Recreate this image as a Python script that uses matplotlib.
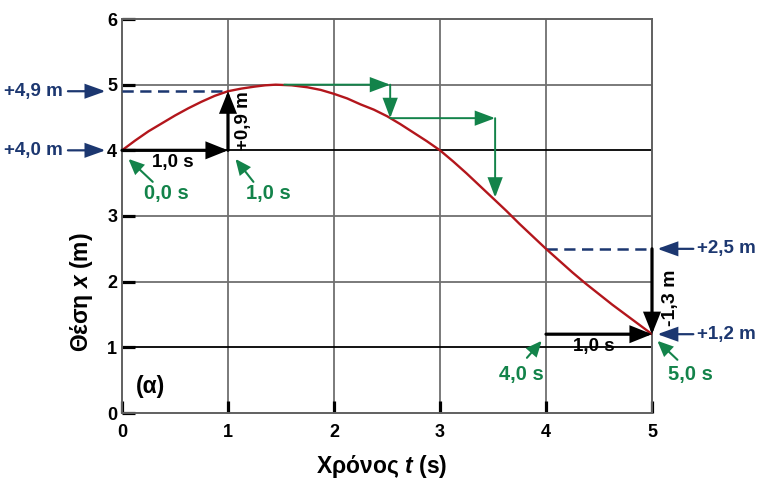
import matplotlib
matplotlib.use("Agg")
import matplotlib.pyplot as plt
from matplotlib.patches import FancyArrowPatch

plt.rcParams["font.family"] = ["Liberation Sans", "DejaVu Sans"]
plt.rcParams["font.weight"] = "bold"
plt.rcParams["mathtext.fontset"] = "custom"
plt.rcParams["mathtext.rm"] = "Liberation Sans:bold"
plt.rcParams["mathtext.it"] = "Liberation Sans:italic:bold"
plt.rcParams["mathtext.bf"] = "Liberation Sans:bold"

# Position-time curve
time_s = [0.0, 0.125, 0.25, 0.375, 0.5, 0.625, 0.75, 0.875, 1.0, 1.125, 1.25,
          1.35, 1.45, 1.6, 1.75, 1.875, 2.0, 2.125, 2.25, 2.375, 2.5, 2.625,
          2.75, 2.875, 3.0, 3.125, 3.25, 3.375, 3.5, 3.625, 3.75, 3.875, 4.0,
          4.125, 4.25, 4.375, 4.5, 4.625, 4.75, 4.875, 5.0]
position_m = [4.0, 4.15, 4.29, 4.41, 4.53, 4.64, 4.74, 4.83, 4.9, 4.94, 4.97,
              4.99, 5.0, 4.99, 4.96, 4.92, 4.86, 4.79, 4.70, 4.62, 4.52, 4.40,
              4.27, 4.14, 4.0, 3.83, 3.65, 3.46, 3.27, 3.08, 2.88, 2.69, 2.5,
              2.32, 2.14, 1.97, 1.81, 1.65, 1.5, 1.35, 1.2]

# Marked instants and positions
t_start, x_start = 0.0, 4.0
t_one, x_one = 1.0, 4.9
t_four, x_four = 4.0, 2.5
t_five, x_five = 5.0, 1.2

# Green staircase (slope steps)
step_t = [1.53, 2.53, 3.52]
step_x = [5.0, 4.49, 3.28]

x_ticks = [0, 1, 2, 3, 4, 5]
y_ticks = [0, 1, 2, 3, 4, 5, 6]

RED = "#b3161c"
GREEN = "#13834a"
NAVY = "#1c3770"
GRID = "#707070"

fig = plt.figure(figsize=(7.57, 4.79), dpi=100)
ax = fig.add_axes([122 / 757, 66 / 479, 530 / 757, 394 / 479])
ax.set_xlim(0, 5)
ax.set_ylim(0, 6)

# grid
for xv in x_ticks[1:-1]:
    ax.axvline(xv, color=GRID, lw=1.3, zorder=1)
for yv in y_ticks[1:-1]:
    c = "black" if yv in (1, 4) else GRID
    ax.axhline(yv, color=c, lw=1.3, zorder=1)
for s in ax.spines.values():
    s.set_color("#606060")
    s.set_linewidth(1.4)

ax.set_xticks(x_ticks)
ax.set_yticks(y_ticks)
ax.tick_params(axis="both", direction="in", length=9, width=2.3,
               color="black", labelsize=13)
ax.tick_params(axis="x", pad=8)
ax.tick_params(axis="y", pad=3.5)
for lab in ax.get_xticklabels() + ax.get_yticklabels():
    lab.set_fontweight("bold")

ax.text(-0.077, 0.307, "Θέση $\\mathit{x}$ (m)", transform=ax.transAxes,
        rotation=90, ha="center", va="center", fontsize=16.5, fontweight="bold")
ax.text(0.49, -0.137, "Χρόνος $\\mathit{t}$ (s)", transform=ax.transAxes,
        ha="center", va="center", fontsize=16.5, fontweight="bold")

# curve
ax.plot(time_s, position_m, color=RED, lw=1.7, zorder=4, solid_capstyle="round")


def arrow(p0, p1, color, lw, hl, hw, z=5):
    a = FancyArrowPatch(p0, p1, arrowstyle=f"-|>,head_length={hl},head_width={hw}",
                        mutation_scale=1, color=color, lw=lw, shrinkA=0, shrinkB=0,
                        zorder=z, clip_on=False, joinstyle="miter")
    ax.add_patch(a)


# dashed reference lines
ax.plot([t_start, t_one], [x_one, x_one], color=NAVY, lw=1.8, ls=(0, (4.5, 2.6)), zorder=3)
ax.plot([t_four, t_five], [x_four, x_four], color=NAVY, lw=1.8, ls=(0, (4.5, 2.6)), zorder=3)

# black displacement / interval arrows
arrow((t_start, x_start), (t_one, x_start), "black", 2.3, 12, 4.8)
arrow((t_one, x_start), (t_one, x_one), "black", 2.3, 12, 4.8)
arrow((t_four, x_five), (t_five, x_five), "black", 2.3, 12, 4.8)
arrow((t_five, x_four), (t_five, x_five), "black", 2.3, 12, 4.8)

ax.text(0.48, 3.81, "1,0 s", ha="center", va="center", fontsize=13.5, fontweight="bold")
ax.text(4.45, 1.02, "1,0 s", ha="center", va="center", fontsize=13.5, fontweight="bold")
ax.text(1.15, 4.46, "+0,9 m", ha="center", va="center", rotation=90,
        fontsize=13.5, fontweight="bold")
ax.text(5.17, 1.75, "-1,3 m", ha="center", va="center", rotation=90,
        fontsize=14, fontweight="bold", clip_on=False)

# green staircase
arrow((step_t[0], step_x[0]), (step_t[1], step_x[0]), GREEN, 1.4, 12, 4.5)
arrow((step_t[1], step_x[0]), (step_t[1], step_x[1]), GREEN, 1.4, 12, 4.5)
arrow((step_t[1], step_x[1]), (step_t[2], step_x[1]), GREEN, 1.4, 12, 4.5)
arrow((step_t[2], step_x[1]), (step_t[2], step_x[2]), GREEN, 1.4, 12, 4.5)

# green time pointers
pointers = [
    ("0,0 s", (0.42, 3.35), (0.29, 3.52), (0.06, 3.87)),
    ("1,0 s", (1.38, 3.35), (1.24, 3.52), (1.07, 3.87)),
    ("4,0 s", (3.77, 0.58), (3.82, 0.84), (3.96, 1.10)),
    ("5,0 s", (5.36, 0.58), (5.24, 0.81), (5.05, 1.10)),
]
for label, tpos, tail, head in pointers:
    ax.text(*tpos, label, color=GREEN, ha="center", va="center",
            fontsize=14.5, fontweight="bold", clip_on=False)
    arrow(tail, head, GREEN, 1.5, 9, 4)

# navy position callouts
left_calls = [("+4,9 m", x_one), ("+4,0 m", x_start)]
for label, yv in left_calls:
    ax.text(-0.557, yv, label, color=NAVY, ha="right", va="center",
            fontsize=13.5, fontweight="bold", clip_on=False)
    arrow((-0.51, yv), (-0.155, yv), NAVY, 1.6, 12, 4.3)

right_calls = [("+2,5 m", x_four), ("+1,2 m", x_five)]
for label, yv in right_calls:
    ax.text(5.425, yv, label, color=NAVY, ha="left", va="center",
            fontsize=13.5, fontweight="bold", clip_on=False)
    arrow((5.39, yv), (5.05, yv), NAVY, 1.6, 12, 4.3)

ax.text(0.27, 0.4, "(α)", ha="center", va="center", fontsize=16.5, fontweight="bold")

fig.savefig("out.png", dpi=100)
